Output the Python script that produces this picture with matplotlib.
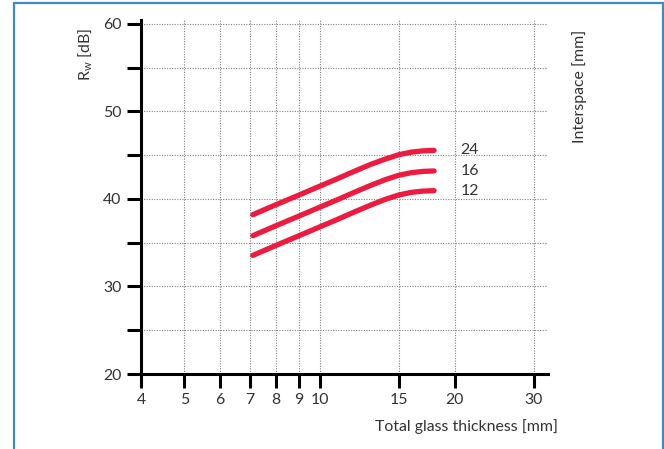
import numpy as np
import matplotlib
matplotlib.use("Agg")
from matplotlib import pyplot as plt
from matplotlib.patches import Rectangle
from matplotlib.ticker import FixedLocator, NullFormatter

plt.rcParams['font.family'] = ['Lato', 'DejaVu Sans']

# Data
thickness = [7.1, 8, 9, 10, 11, 12, 13, 14, 15, 16, 17, 18]
rw_24 = [38.2, 39.35, 40.45, 41.45, 42.35, 43.2, 43.95, 44.55, 45.05, 45.35, 45.5, 45.55]
rw_16 = [35.8, 36.95, 38.05, 39.05, 39.95, 40.8, 41.55, 42.2, 42.7, 43.0, 43.15, 43.2]
rw_12 = [33.55, 34.7, 35.8, 36.8, 37.7, 38.55, 39.3, 39.95, 40.45, 40.75, 40.9, 40.95]
interspaces = ["24", "16", "12"]

x_ticks = [4, 5, 6, 7, 8, 9, 10, 15, 20, 30]
y_major = [20, 30, 40, 50, 60]
y_minor = [25, 35, 45, 55]

red = '#EC1B3F'
text_col = '#333333'
fs = 11.4

fig = plt.figure(figsize=(6.64, 4.49), dpi=100)
ax = fig.add_axes([141 / 664, 1 - 374 / 449, (548 - 141) / 664, (374 - 20) / 449])

ax.set_xscale('log')
ax.set_xlim(4, 32.3)
ax.set_ylim(20, 60.45)

for series in (rw_24, rw_16, rw_12):
    ax.plot(thickness, series, color=red, lw=3.8, solid_capstyle='round', zorder=3)

for label, series in zip(interspaces, (rw_24, rw_16, rw_12)):
    ax.text(20.6, series[-1], label, fontsize=fs, color=text_col, va='center', ha='left')

# grid
for xv in x_ticks[1:]:
    ax.axvline(xv, color='#808080', lw=0.8, ls=(0, (1, 1.3)), zorder=1)
for yv in y_major[1:] + y_minor:
    ax.axhline(yv, color='#808080', lw=0.8, ls=(0, (1, 1.3)), zorder=1)

ax.xaxis.set_major_locator(FixedLocator(x_ticks))
ax.xaxis.set_minor_locator(FixedLocator([]))
ax.xaxis.set_minor_formatter(NullFormatter())
ax.set_xticklabels([str(v) for v in x_ticks])
ax.yaxis.set_major_locator(FixedLocator(y_major))
ax.yaxis.set_minor_locator(FixedLocator(y_minor))

for side in ('top', 'right'):
    ax.spines[side].set_visible(False)
for side in ('left', 'bottom'):
    ax.spines[side].set_linewidth(2.2)

ax.tick_params(axis='both', which='both', direction='out', length=10, width=2.2,
               labelsize=fs, labelcolor=text_col, pad=4)

fig.text(375 / 664, 1 - 427 / 449, "Total glass thickness [mm]", fontsize=fs,
         color=text_col, ha='left', va='center')
fig.text(86 / 664, 1 - 55 / 449, r"R$_\mathregular{w}$ [dB]", fontsize=fs, color=text_col,
         rotation=90, ha='center', va='center')
fig.text(580 / 664, 1 - 86 / 449, "Interspace [mm]", fontsize=fs, color=text_col,
         rotation=90, ha='center', va='center')

fig.patches.append(Rectangle((14 / 664, -0.05), (663 - 14) / 664, 1.05 - 3 / 449,
                             transform=fig.transFigure, fill=False,
                             edgecolor='#3A8DC5', lw=1.6))

fig.savefig('out.png', dpi=100)
